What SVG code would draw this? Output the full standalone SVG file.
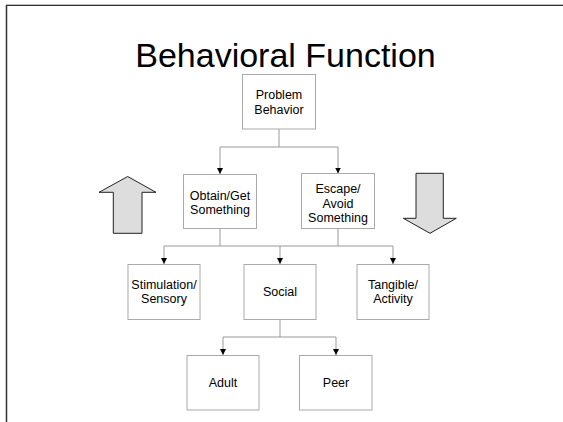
<svg xmlns="http://www.w3.org/2000/svg" width="563" height="422" viewBox="0 0 563 422">
<style>
.box{fill:#fff;stroke:#aaa;stroke-width:1}
.t{font-family:"Liberation Sans",Arial,sans-serif;font-size:12.5px;fill:#000;text-anchor:middle}
.title{font-family:"Liberation Sans",Arial,sans-serif;font-size:34px;fill:#000;text-anchor:middle}
.c{fill:none;stroke:#999;stroke-width:1}
.big{fill:#ddd;stroke:#222;stroke-width:1;stroke-linejoin:miter}
</style>
<defs>
<marker id="ad" markerUnits="userSpaceOnUse" markerWidth="6" markerHeight="6" viewBox="0 0 6 6" refX="3" refY="6">
<path d="M0,0 L6,0 L3,6 Z" fill="#000"/>
</marker>
</defs>
<rect width="563" height="422" fill="#fff"/>
<g id="frame">
<line x1="6" y1="4.5" x2="563" y2="4.5" stroke="#bbb" stroke-width="1"/>
<line x1="6" y1="5.5" x2="563" y2="5.5" stroke="#333" stroke-width="1"/>
<line x1="6.5" y1="5" x2="6.5" y2="422" stroke="#333" stroke-width="1.5"/>
</g>
<text id="title" class="title" x="285.5" y="66.5">Behavioral Function</text>
<g id="connectors">
<path class="c" d="M279 129 V147 M220 147 H338"/>
<path class="c" d="M220 147 V174" marker-end="url(#ad)"/>
<path class="c" d="M338 147 V173.5" marker-end="url(#ad)"/>
<path class="c" d="M220 228.5 V246 M338 228.5 V246 M164 246 H393"/>
<path class="c" d="M164 246 V264" marker-end="url(#ad)"/>
<path class="c" d="M280 246 V264" marker-end="url(#ad)"/>
<path class="c" d="M393 246 V264" marker-end="url(#ad)"/>
<path class="c" d="M280 319 V337 M223 337 H336"/>
<path class="c" d="M223 337 V355" marker-end="url(#ad)"/>
<path class="c" d="M336 337 V355" marker-end="url(#ad)"/>
</g>
<g id="problem-behavior">
<rect class="box" x="242.5" y="74.5" width="73" height="54.5"/>
<text class="t" x="279" y="98.5">Problem</text>
<text class="t" x="279" y="113.5">Behavior</text>
</g>
<g id="obtain">
<rect class="box" x="183.5" y="174.5" width="73" height="54"/>
<text class="t" x="220" y="199.5">Obtain/Get</text>
<text class="t" x="220" y="214">Something</text>
</g>
<g id="escape">
<rect class="box" x="301.5" y="173.5" width="73" height="55"/>
<text class="t" x="338" y="193">Escape/</text>
<text class="t" x="338" y="207.5">Avoid</text>
<text class="t" x="338" y="222">Something</text>
</g>
<g id="stimulation">
<rect class="box" x="128" y="264.5" width="72" height="55"/>
<text class="t" x="164" y="288.5">Stimulation/</text>
<text class="t" x="164" y="303">Sensory</text>
</g>
<g id="social">
<rect class="box" x="244" y="264.5" width="72" height="55"/>
<text class="t" x="280" y="295.5">Social</text>
</g>
<g id="tangible">
<rect class="box" x="357" y="264.5" width="72" height="55"/>
<text class="t" x="393" y="288.5">Tangible/</text>
<text class="t" x="393" y="303">Activity</text>
</g>
<g id="adult">
<rect class="box" x="187" y="355.5" width="72" height="54.5"/>
<text class="t" x="223" y="387">Adult</text>
</g>
<g id="peer">
<rect class="box" x="299.5" y="355.5" width="72.5" height="54.5"/>
<text class="t" x="336" y="387">Peer</text>
</g>
<g id="up-arrow">
<polygon class="big" points="127.7,176.5 156,192.3 142,192.3 142,233.3 113.3,233.3 113.3,192.3 99,192.3"/>
</g>
<g id="down-arrow">
<polygon class="big" points="416,173.3 443.3,173.3 443.3,218.3 456.3,218.3 430,233.3 403.3,218.3 416,218.3"/>
</g>
</svg>
